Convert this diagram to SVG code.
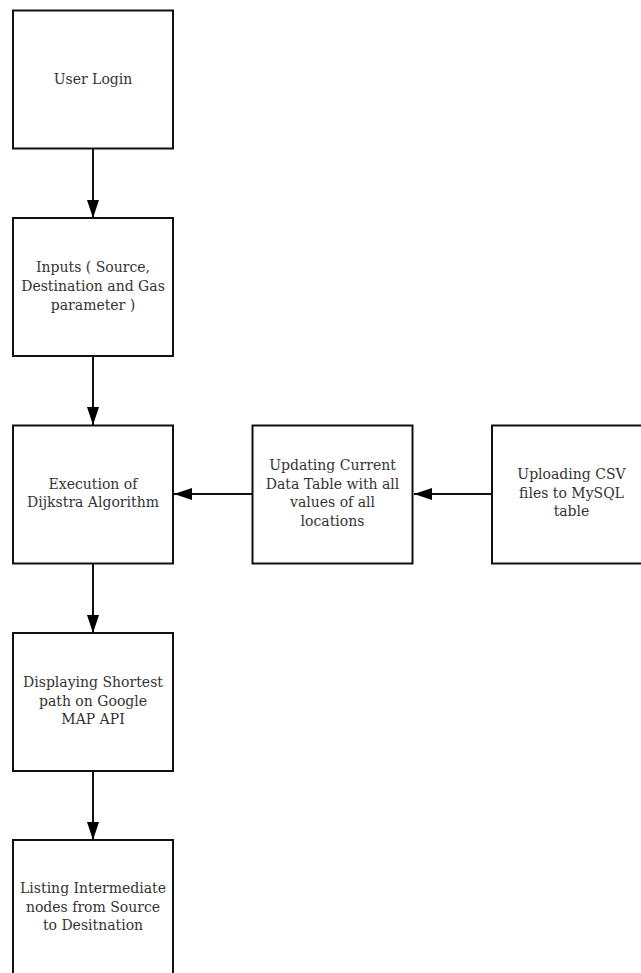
<svg xmlns="http://www.w3.org/2000/svg" width="641" height="973" viewBox="0 0 641 973">
<style>
.box{fill:#fff;stroke:#111;stroke-width:2}
.t{font-family:"DejaVu Serif","Liberation Serif",serif;font-size:14px;fill:#333;text-anchor:middle;dominant-baseline:central}
.c{stroke:#111;stroke-width:2;fill:none}
</style>
<defs>
<marker id="ah" viewBox="0 0 18 12" refX="18" refY="6" markerWidth="18" markerHeight="12" markerUnits="userSpaceOnUse" orient="auto">
<path d="M0,0 L18,6 L0,12 z" fill="#000"/>
</marker>
</defs>
<rect width="641" height="973" fill="#fff"/>
<g id="connectors">
<line class="c" x1="93" y1="148" x2="93" y2="218" marker-end="url(#ah)"/>
<line class="c" x1="93" y1="356" x2="93" y2="425" marker-end="url(#ah)"/>
<line class="c" x1="93" y1="563" x2="93" y2="633" marker-end="url(#ah)"/>
<line class="c" x1="93" y1="771" x2="93" y2="840" marker-end="url(#ah)"/>
<line class="c" x1="252" y1="494" x2="174" y2="494" marker-end="url(#ah)"/>
<line class="c" x1="492" y1="494" x2="414" y2="494" marker-end="url(#ah)"/>
</g>
<g id="user-login">
<rect class="box" x="13" y="10.5" width="160" height="138"/>
<text class="t" x="93" y="78.5">User Login</text>
</g>
<g id="inputs">
<rect class="box" x="13" y="218" width="160" height="138"/>
<text class="t" x="93" y="267">Inputs ( Source,</text>
<text class="t" x="93" y="286">Destination and Gas</text>
<text class="t" x="93" y="305">parameter )</text>
</g>
<g id="execution">
<rect class="box" x="13" y="425.5" width="160" height="138"/>
<text class="t" x="93" y="483.5">Execution of</text>
<text class="t" x="93" y="502">Dijkstra Algorithm</text>
</g>
<g id="updating">
<rect class="box" x="252.5" y="425.5" width="160" height="138"/>
<text class="t" x="332.5" y="465">Updating Current</text>
<text class="t" x="332.5" y="483.5">Data Table with all</text>
<text class="t" x="332.5" y="502">values of all</text>
<text class="t" x="332.5" y="520.5">locations</text>
</g>
<g id="uploading">
<rect class="box" x="492" y="425.5" width="150" height="138"/>
<text class="t" x="571.5" y="474">Uploading CSV</text>
<text class="t" x="571.5" y="492.5">files to MySQL</text>
<text class="t" x="571.5" y="511">table</text>
</g>
<g id="displaying">
<rect class="box" x="13" y="633" width="160" height="138"/>
<text class="t" x="93" y="682">Displaying Shortest</text>
<text class="t" x="93" y="700.5">path on Google</text>
<text class="t" x="93" y="719">MAP API</text>
</g>
<g id="listing">
<rect class="box" x="13" y="840" width="160" height="140"/>
<text class="t" x="93" y="888">Listing Intermediate</text>
<text class="t" x="93" y="906.5">nodes from Source</text>
<text class="t" x="93" y="925">to Desitnation</text>
</g>
</svg>
